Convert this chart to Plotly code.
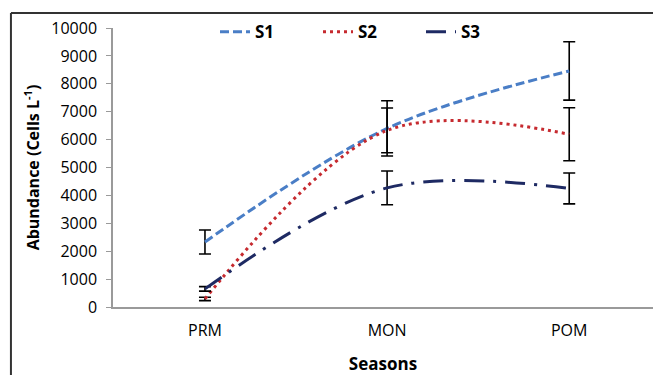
import plotly.graph_objects as go

seasons = ["PRM", "MON", "POM"]
s1 = [2330, 6400, 8460]
s1_err = [430, 990, 1045]
s2 = [290, 6330, 6190]
s2_err = [60, 800, 950]
s3 = [650, 4270, 4250]
s3_err = [80, 605, 555]

series = [
    ("S1", s1, s1_err, "#4A7EC6", "9px,4px"),
    ("S2", s2, s2_err, "#C62A2F", "3px,4px"),
    ("S3", s3, s3_err, "#1E2A63", "20px,9px,3px,9px"),
]

fig = go.Figure()
for name, vals, err, color, dash in series:
    fig.add_trace(go.Scatter(
        x=seasons, y=vals, name=name, mode="lines",
        line=dict(color=color, width=3, dash=dash, shape="spline", smoothing=1.0),
        error_y=dict(type="data", array=err, visible=True, color="black",
                     thickness=1.6, width=6),
    ))

fig.update_layout(
    width=653, height=375,
    margin=dict(l=113, r=0, t=28, b=68),
    paper_bgcolor="white", plot_bgcolor="white",
    font=dict(family="Open Sans, Lato, sans-serif", color="black", size=16),
    showlegend=True,
    legend=dict(orientation="h", x=0.475, xanchor="center", y=0.985, yanchor="middle",
                font=dict(size=17, family="Open Sans", weight="bold"),
                bgcolor="rgba(0,0,0,0)", entrywidth=58, entrywidthmode="pixels",
                tracegroupgap=0),
    xaxis=dict(range=[-0.505, 2.46], showline=True, linecolor="#9a9a9a", linewidth=1.5,
               ticks="", showgrid=False, zeroline=False, ticklabelstandoff=8,
               tickfont=dict(size=16),
               title=dict(text="Seasons", font=dict(size=17, weight="bold"), standoff=20)),
    yaxis=dict(range=[0, 10000], dtick=1000, tickformat="d", showline=True,
               linecolor="#9a9a9a", linewidth=1.5,
               ticks="outside", ticklen=5, tickcolor="#9a9a9a", showgrid=False, zeroline=False,
               tickfont=dict(size=16), ticklabelstandoff=6,
               title=dict(text="Abundance (Cells L<sup>-1</sup>)", font=dict(size=16, weight="bold"), standoff=8)),
)

# outer border of the figure frame (left and top edges)
fig.add_shape(type="line", xref="paper", yref="paper", x0=-0.189, x1=-0.189, y0=1.054, y1=-0.3,
              line=dict(color="#333333", width=2))
fig.add_shape(type="line", xref="paper", yref="paper", x0=-0.189, x1=1.05, y0=1.054, y1=1.054,
              line=dict(color="#333333", width=2))

fig.write_html("out.html")
